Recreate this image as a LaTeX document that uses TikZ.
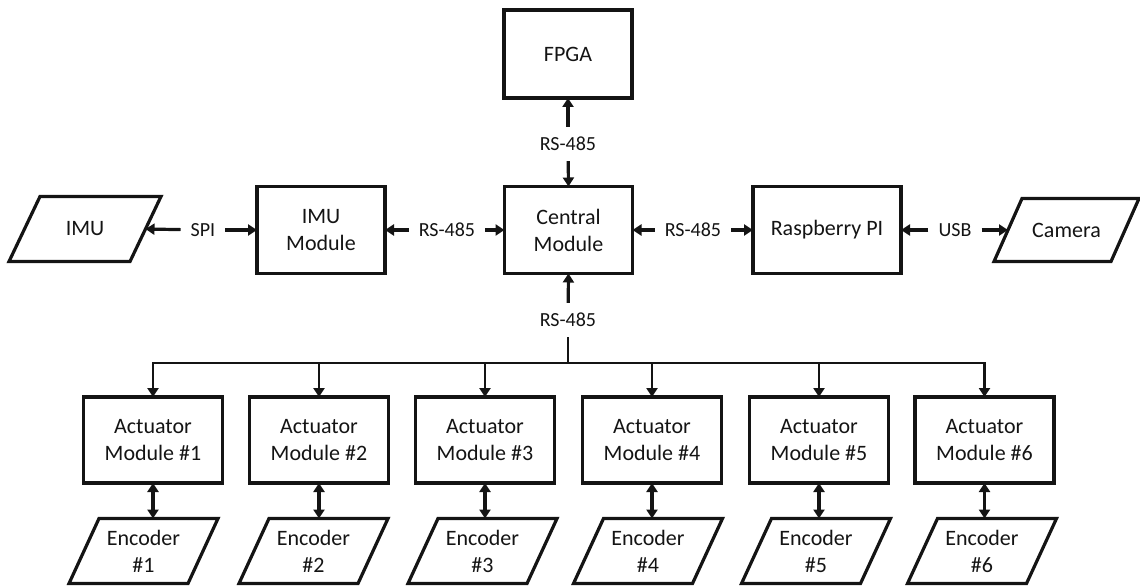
\documentclass[tikz,border=0pt]{standalone}
\usepackage{fontspec}
\setmainfont{Carlito}
\usetikzlibrary{arrows.meta}
\definecolor{ink}{HTML}{141414}
\newcommand\bxfont{\fontsize{22}{27}\selectfont}
\newcommand\lbfont{\fontsize{20}{24}\selectfont}
% slanted input/output outline round a node: bottom shifted left, top shifted right
\newcommand\drawio[2]{%
  \draw[iodraw] ([xshift=-#2]#1.south west) -- ([xshift=#2]#1.north west)
    -- ([xshift=#2]#1.north east) -- ([xshift=-#2]#1.south east) -- cycle;}
\begin{document}
\begin{tikzpicture}[x=1pt,y=-1pt,
  every node/.style={text=ink},
  box/.style={draw=ink, line width=3.2pt, rectangle, align=center, font=\bxfont,
    inner sep=0pt, outer sep=0pt},
  io/.style={rectangle, align=center, font=\bxfont, inner sep=0pt, outer sep=0pt},
  iodraw/.style={draw=ink, line width=3.2pt, line join=miter},
  lbl/.style={font=\lbfont, inner xsep=10pt, inner ysep=10pt},
  arr/.style={draw=ink, line width=3.2pt, -{Triangle[length=9pt,width=11pt]}},
  biarr/.style={draw=ink, line width=3.2pt,
    {Triangle[length=9pt,width=11pt]}-{Triangle[length=9pt,width=11pt]}},
  bus/.style={draw=ink, line width=2.8pt}]
\useasboundingbox (0,0) rectangle (1140,588);

% top row
\node[box, minimum width=128pt, minimum height=88pt] (fpga) at (568,54) {FPGA};
\node[box, minimum width=128pt, minimum height=87pt] (central) at (568.5,230) {Central\\Module};
\node[box, minimum width=128pt, minimum height=87pt] (imumod) at (321,230) {IMU\\Module};
\node[box, minimum width=148pt, minimum height=87pt] (rpi) at (827,230) {Raspberry PI};
\node[io, minimum width=121pt, minimum height=65pt] (imu) at (85,229) {IMU};
\drawio{imu}{15.5pt}
\node[io, minimum width=117pt, minimum height=63pt] (cam) at (1066.5,230) {Camera};
\drawio{cam}{14pt}

% links of the central row
\node[lbl] (spi) at (203,230) {SPI};
\draw[arr] (spi) -- (imu.east);
\draw[arr] (spi) -- (imumod.west);
\node[lbl] (rsl) at (447,230) {RS-485};
\draw[arr] (rsl) -- (imumod.east);
\draw[arr] (rsl) -- (central.west);
\node[lbl] (rsr) at (693,230) {RS-485};
\draw[arr] (rsr) -- (central.east);
\draw[arr] (rsr) -- (rpi.west);
\node[lbl] (usb) at (955,230) {USB};
\draw[arr] (usb) -- (rpi.east);
\draw[arr] (usb) -- (cam.west);

% FPGA link
\node[lbl] (rst) at (568,144) {RS-485};
\draw[arr] (rst) -- (fpga.south);
\draw[arr] (rst) -- (central.north);

% actuator modules and encoders
\foreach \i/\ax/\ex in {1/153/143.5, 2/319/313.5, 3/485/482.5, 4/652/648, 5/819/816, 6/984.5/982}{
  \node[box, minimum width=139pt, minimum height=86pt] (act\i) at (\ax,440) {Actuator\\Module \#\i};
  \node[io, minimum width=119pt, minimum height=65pt] (enc\i) at (\ex,551) {Encoder\\\#\i};
  \drawio{enc\i}{15pt}
  \draw[biarr] (act\i.south) -- (act\i.south |- enc\i.north);
}

% bus to the actuator modules
\node[lbl] (rsb) at (568,320) {RS-485};
\coordinate (junc) at (568,363);
\draw[arr] (rsb) -- (central.south);
\draw[bus] (rsb) -- (junc);
\draw[bus, line cap=rect] (act1.north |- junc) -- (act6.north |- junc);
\foreach \i in {1,...,6}{
  \draw[arr, line width=2.8pt] (act\i.north |- junc) -- (act\i.north);
}
\end{tikzpicture}
\end{document}
